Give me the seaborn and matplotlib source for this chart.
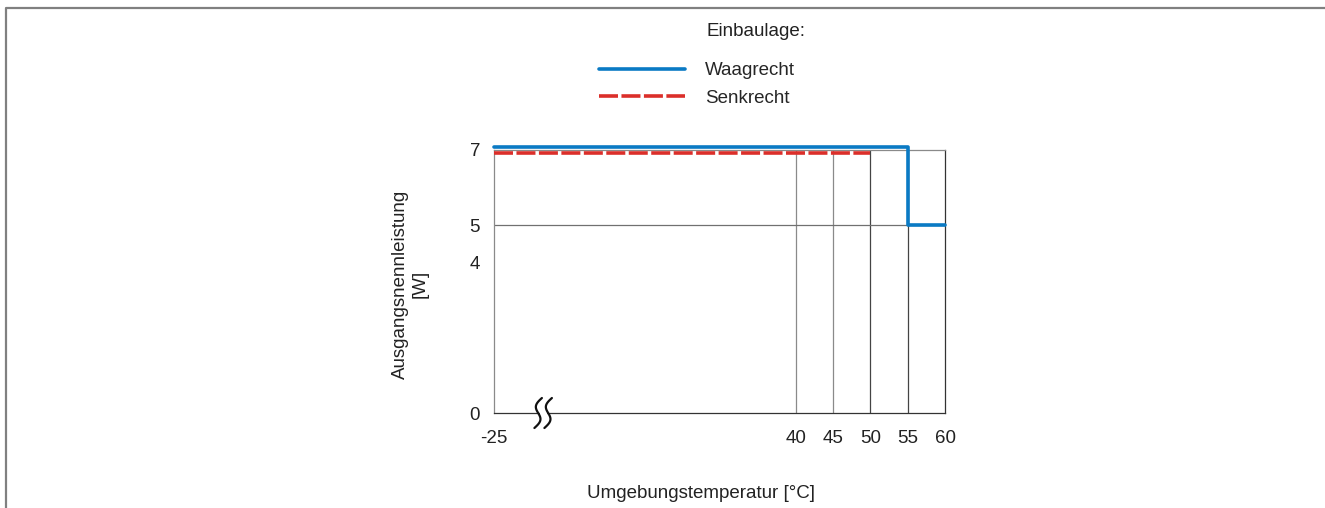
import numpy as np
import matplotlib
matplotlib.use('Agg')
import matplotlib.pyplot as plt
import seaborn as sns
from matplotlib.lines import Line2D

# data
temp_ticks = [-25, 40, 45, 50, 55, 60]
power_ticks = [0, 4, 5, 7]
waag_x = [-25, 55, 55, 60]
waag_y = [7.08, 7.08, 5, 5]
senk_x = [-25, 50]
senk_y = [6.92, 6.92]

FS = 13.5
sns.set_style('white')
plt.rcParams['font.family'] = ['Liberation Sans', 'DejaVu Sans']
plt.rcParams['font.size'] = FS

# broken x axis: everything below 40 is compressed
K = 0.623


def fwd(x):
    x = np.asarray(x, dtype=float)
    return np.where(x >= 40, x, 40 + (x - 40) * K)


def inv(u):
    u = np.asarray(u, dtype=float)
    return np.where(u >= 40, u, 40 + (u - 40) / K)


fig = plt.figure(figsize=(13.25, 5.08), dpi=100)
ax = fig.add_axes([494 / 1325, 1 - 413 / 508, 451 / 1325, 263 / 508])
ax.set_xscale('function', functions=(fwd, inv))
ax.set_xlim(-25, 60)
ax.set_ylim(0, 7)

# grid lines
grid_cols = {40: '#8a8a8a', 45: '#8a8a8a', 50: '#444444', 55: '#444444'}
for t, c in grid_cols.items():
    ax.axvline(t, color=c, lw=0.9, zorder=1)
ax.axhline(5, color='#707070', lw=0.9, zorder=1)

blue = '#0a7ac4'
red = '#db2f2a'
sns.lineplot(x=senk_x, y=senk_y, ax=ax, color=red, lw=2.6, estimator=None,
             sort=False, dashes=False, label='Senkrecht', clip_on=False, zorder=3)
ax.lines[-1].set_dashes((5.26, 0.96))
sns.lineplot(x=waag_x, y=waag_y, ax=ax, color=blue, lw=2.6, estimator=None,
             sort=False, label='Waagrecht', clip_on=False, zorder=4)

for side in ['left', 'top']:
    ax.spines[side].set_color('#8a8a8a')
for side in ['right', 'bottom']:
    ax.spines[side].set_color('#333333')
for s in ax.spines.values():
    s.set_linewidth(0.9)

ax.set_xticks(temp_ticks)
ax.set_xticklabels([str(t) for t in temp_ticks])
ax.set_yticks(power_ticks)
ax.set_yticklabels([str(t) for t in power_ticks])
ax.xaxis.set_minor_locator(matplotlib.ticker.NullLocator())
ax.tick_params(axis='x', length=0, pad=12, labelsize=FS, colors='#222222')
ax.tick_params(axis='y', length=0, pad=10, labelsize=FS, colors='#222222')
ax.set_xlabel('')
ax.set_ylabel('')

# axis break symbol
yy = np.linspace(-15, 15, 60)
for off in [-5, 5]:
    xx = off - 4 * np.sin(np.pi * yy / 15) + 0.25 * yy
    ax.plot(0.109 + xx / 451, yy / 263, transform=ax.transAxes,
            color='#111111', lw=1.6, clip_on=False, zorder=5)
ax.fill_betweenx(yy[20:40] / 263, 0.109 - 3 / 451, 0.109 + 3 / 451,
                 transform=ax.transAxes, color='white', zorder=4.5, clip_on=False)

# legend
h, l = ax.get_legend_handles_labels()
order = [l.index('Waagrecht'), l.index('Senkrecht')]
ax.legend([h[i] for i in order], [l[i] for i in order],
          loc='upper left', bbox_to_anchor=(599 / 1325, 1 - 62 / 508),
          bbox_transform=fig.transFigure, frameon=False, borderpad=0,
          borderaxespad=0, handlelength=4.6, handletextpad=1.05,
          labelspacing=0.55, fontsize=FS)
fig.text(706 / 1325, 1 - 31 / 508, 'Einbaulage:', ha='left', va='center',
         fontsize=FS, color='#222222')

fig.text(701 / 1325, 1 - 493 / 508, 'Umgebungstemperatur [°C]', ha='center',
         va='center', fontsize=FS, color='#222222')
fig.text(410 / 1325, 1 - 284 / 508, 'Ausgangsnennleistung\n[W]', rotation=90,
         ha='center', va='center', multialignment='center', fontsize=FS,
         color='#222222')

# outer frame (left and top only)
fig.add_artist(Line2D([6 / 1325, 6 / 1325, 1], [0, 1 - 8 / 508, 1 - 8 / 508],
                      transform=fig.transFigure, color='#808080', lw=1.6))

fig.savefig('out.png', dpi=100)
